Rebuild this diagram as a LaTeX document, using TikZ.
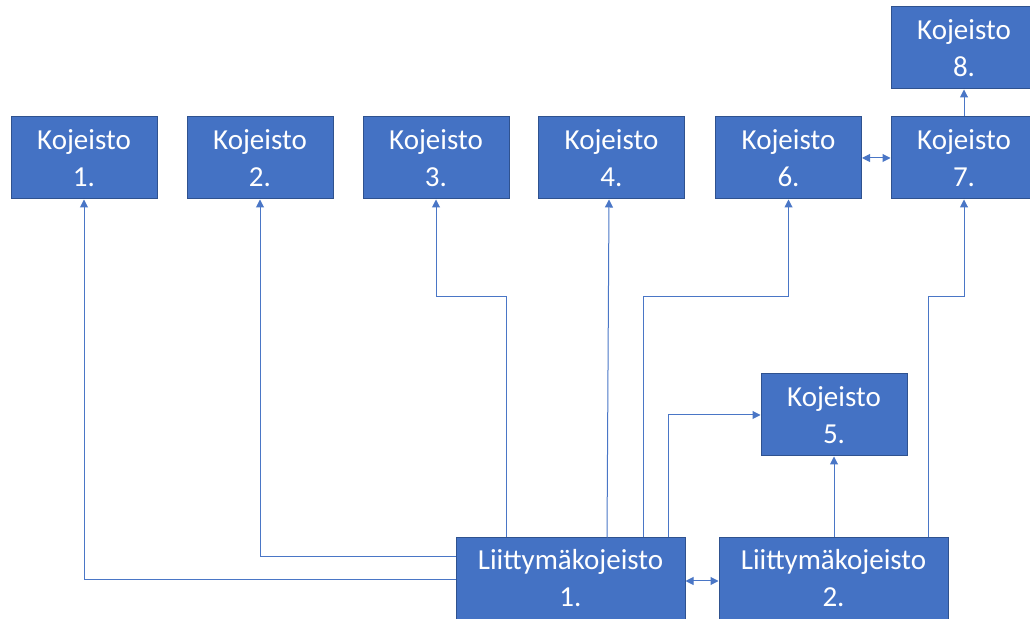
\documentclass[tikz,border=0pt]{standalone}
\usepackage{fontspec}
\setmainfont{Carlito}
\usetikzlibrary{arrows.meta}
\definecolor{boxblue}{HTML}{4472C4}
\definecolor{boxedge}{HTML}{2F528F}
\definecolor{linkblue}{HTML}{4A76C6}
\tikzset{
  kbox/.style={draw=boxedge, line width=1pt, fill=boxblue, text=white,
    minimum width=146pt, minimum height=82pt, inner sep=0pt, align=center,
    font=\fontsize{29pt}{37pt}\selectfont},
  lbox/.style={kbox, minimum width=229pt, minimum height=81pt},
  conn/.style={draw=linkblue, line width=1pt, -{Triangle[length=8pt,width=8pt]}},
  bconn/.style={draw=linkblue, line width=1pt, {Triangle[length=8pt,width=8pt]}-{Triangle[length=8pt,width=8pt]}}
}
\begin{document}
\begin{tikzpicture}[x=1pt, y=1pt]
\useasboundingbox (0,0) rectangle (1030,618);
\clip (0,0) rectangle (1030,618);
% boxes (y' = 618 - py)
\node[kbox] (k1) at (84,460) {Kojeisto\\1.};
\node[kbox] (k2) at (260,460) {Kojeisto\\2.};
\node[kbox] (k3) at (436,460) {Kojeisto\\3.};
\node[kbox] (k4) at (611.5,460) {Kojeisto\\4.};
\node[kbox] (k6) at (788.5,460) {Kojeisto\\6.};
\node[kbox] (k7) at (964,460) {Kojeisto\\7.};
\node[kbox] (k8) at (964,570) {Kojeisto\\8.};
\node[kbox] (k5) at (834,203) {Kojeisto\\5.};
\node[lbox] (l1) at (570.5,39.5) {Liittymäkojeisto\\1.};
\node[lbox] (l2) at (833.5,39.5) {Liittymäkojeisto\\2.};
% connectors
\draw[conn] ([yshift=-1.5pt]l1.west) -| (k1.south);
\draw[conn] ([yshift=21.5pt]l1.west) -| (k2.south);
\draw[conn] ([xshift=-64.5pt]l1.north) -- ++(0,241) -| (k3.south);
\draw[conn] ([xshift=36.5pt]l1.north) -- ([xshift=-2.5pt]k4.south);
\draw[conn] ([xshift=72.5pt]l1.north) -- ++(0,241) -| (k6.south);
\draw[conn] ([xshift=97.5pt]l1.north) |- (k5.west);
\draw[conn] (l2.north -| k5.south) -- (k5.south);
\draw[conn] ([xshift=94.5pt]l2.north) -- ++(0,241) -| (k7.south);
\draw[conn] (k7.north) -- (k8.south);
\draw[bconn] ([yshift=-2.5pt]l1.east) -- ([yshift=-2.5pt]l2.west);
\draw[bconn] (k6.east) -- (k7.west);
\end{tikzpicture}
\end{document}
